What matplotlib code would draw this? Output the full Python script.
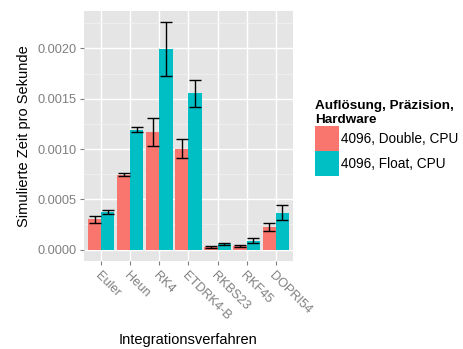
import numpy as np
import matplotlib
matplotlib.use("Agg")
import matplotlib.pyplot as plt
from matplotlib.patches import Patch

plt.rcParams['font.family'] = ['Liberation Sans', 'DejaVu Sans']

methods = ["Euler", "Heun", "RK4", "ETDRK4-B", "RKBS23", "RKF45", "DOPRI54"]
series = ["4096, Double, CPU", "4096, Float, CPU"]
colors = ["#F8766D", "#00BFC4"]

# mean simulated time per second and its spread
double_mean = [0.000300, 0.000745, 0.001170, 0.001005, 0.000030, 0.000040, 0.000223]
double_err = [0.000033, 0.000015, 0.000138, 0.000092, 0.000010, 0.000010, 0.000040]
float_mean = [0.000375, 0.001192, 0.001995, 0.001555, 0.000052, 0.000090, 0.000368]
float_err = [0.000017, 0.000027, 0.000267, 0.000135, 0.000010, 0.000021, 0.000078]

means = [double_mean, float_mean]
errs = [double_err, float_err]

fig = plt.figure(figsize=(4.63, 3.49), dpi=100)
ax = fig.add_axes([0.1814, 0.2521, 0.4514, 0.7172])
ax.set_facecolor("#E5E5E5")

x = np.arange(1, len(methods) + 1)
w = 0.45
for i in range(2):
    pos = x + (i - 0.5) * w
    ax.bar(pos, means[i], width=w, color=colors[i], zorder=3)
    ax.errorbar(pos, means[i], yerr=errs[i], fmt="none", ecolor="black",
                elinewidth=1.0, capsize=4.6, capthick=1.0, zorder=4)

top = max(np.max(np.add(m, e)) for m, e in zip(means, errs))
pad = top * 0.05
ax.set_ylim(-pad, top + pad)
ax.set_xlim(0.4, len(methods) + 0.6)

yt = np.arange(0, 0.00201, 0.0005)
ax.set_yticks(yt)
ax.set_yticklabels(["%.4f" % v for v in yt])
ax.set_yticks(np.arange(0.00025, 0.0023, 0.0005), minor=True)
ax.set_xticks(x)
ax.set_xticklabels(methods, rotation=-45, ha="left", va="top", rotation_mode="anchor")

ax.grid(True, which="major", color="white", linewidth=1.0, zorder=0)
ax.grid(True, which="minor", axis="y", color="#F2F2F2", linewidth=0.5, zorder=0)
ax.set_axisbelow(True)
for s in ax.spines.values():
    s.set_visible(False)

ax.tick_params(axis="both", which="major", colors="#7F7F7F", labelsize=9.2,
               length=3, width=0.8, pad=2)
ax.tick_params(axis="x", labelcolor="#7F7F7F", pad=3)
ax.tick_params(which="minor", length=0)

ax.set_xlabel("Integrationsverfahren", fontsize=10.5, labelpad=8)
ax.set_ylabel("Simulierte Zeit pro Sekunde", fontsize=10.5, labelpad=5)

handles = [Patch(facecolor=c, edgecolor="none") for c in colors]
leg = fig.legend(handles, series, title="Auflösung, Präzision,\nHardware",
                 loc="upper left", bbox_to_anchor=(0.680, 0.7126),
                 frameon=False, fontsize=9.8, handlelength=1.8, handleheight=2.45,
                 labelspacing=0.0, handletextpad=0.1, borderpad=0.0,
                 borderaxespad=0.0, alignment="left")
leg.get_title().set_fontweight("bold")
leg.get_title().set_fontsize(9.7)

fig.savefig("out.png", dpi=100)
